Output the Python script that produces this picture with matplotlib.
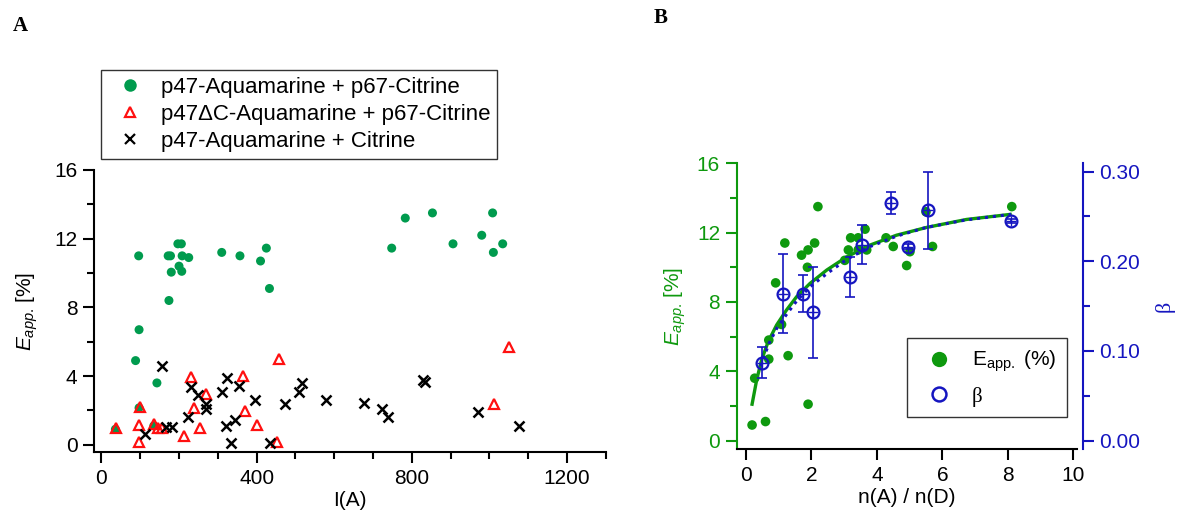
import matplotlib
matplotlib.use('Agg')
from matplotlib import pyplot as plt
from matplotlib.lines import Line2D
from matplotlib.ticker import MultipleLocator, FormatStrFormatter

plt.rcParams['font.family'] = ['Liberation Sans', 'DejaVu Sans']
plt.rcParams['mathtext.fontset'] = 'custom'
plt.rcParams['mathtext.rm'] = 'Liberation Sans'
plt.rcParams['mathtext.it'] = 'Liberation Sans:italic'

# ---- panel A data: E_app [%] vs I(A)
aqCit_x = [36, 88, 97, 97, 96, 135, 143, 174, 172, 178, 197, 206, 208, 225, 200, 180, 207,
           310, 357, 425, 410, 433, 748, 783, 853, 906, 980, 1008, 1010, 1034]
aqCit_y = [0.9, 4.9, 6.7, 2.15, 11.0, 1.1, 3.6, 8.4, 11.0, 11.0, 11.7, 11.7, 11.0, 10.9, 10.4, 10.05, 10.1,
           11.2, 11.0, 11.45, 10.7, 9.1, 11.45, 13.2, 13.5, 11.7, 12.2, 13.5, 11.2, 11.7]

dC_x = [37, 99, 96, 97, 135, 145, 156, 230, 238, 213, 253, 270, 364, 371, 401, 457, 452, 1049, 1012]
dC_y = [0.97, 2.18, 1.17, 0.16, 1.22, 0.97, 0.97, 3.95, 2.14, 0.49, 0.97, 2.97, 3.98, 1.98, 1.17, 5.0, 0.16,
        5.7, 2.39]

cit_x = [112, 155, 166, 182, 223, 230, 249, 270, 270, 311, 324, 320, 334, 345, 354, 396, 434, 474,
         508, 517, 579, 677, 722, 739, 828, 835, 970, 1075]
cit_y = [0.6, 4.6, 1.05, 1.05, 1.6, 3.35, 2.9, 2.4, 2.1, 3.1, 3.9, 1.1, 0.1, 1.45, 3.4, 2.6, 0.1, 2.4,
         3.1, 3.6, 2.6, 2.45, 2.1, 1.6, 3.75, 3.65, 1.9, 1.1]

# ---- panel B data: E_app and beta vs n(A)/n(D)
ratio = [0.19, 0.6, 0.27, 0.7, 0.7, 0.91, 1.09, 1.29, 1.19, 2.2, 1.7, 1.9, 2.1, 1.88, 1.9, 3.02, 3.13, 3.2,
         3.43, 3.64, 3.43, 3.69, 4.28, 4.5, 4.91, 5.01, 5.5, 5.7, 8.12]
eapp = [0.9, 1.1, 3.6, 4.7, 5.8, 9.1, 6.7, 4.9, 11.4, 13.5, 10.7, 11.0, 11.4, 10.0, 2.1, 10.4, 11.0, 11.7,
        11.7, 12.2, 11.0, 11.0, 11.7, 11.2, 10.1, 10.9, 13.2, 11.2, 13.5]

beta_ratio = [0.48, 1.12, 1.73, 2.04, 3.18, 3.56, 4.42, 4.94, 5.55, 8.10]
beta = [0.087, 0.164, 0.164, 0.143, 0.1825, 0.2185, 0.2646, 0.2163, 0.257, 0.245]
beta_err = [0.017, 0.044, 0.021, 0.051, 0.022, 0.022, 0.0122, 0.003, 0.043, 0.002]

fit_ratio = [0.19, 0.33, 0.48, 0.68, 0.94, 1.24, 1.55, 1.96, 2.47, 3.08, 3.79, 4.6, 5.52, 6.74, 8.07]
fit_eapp = [2.1, 3.5, 4.65, 5.7, 6.67, 7.53, 8.3, 9.07, 9.84, 10.6, 11.28, 11.85, 12.3, 12.76, 13.05]

fitb_ratio = [0.45, 0.5, 0.7, 0.95, 1.25, 1.55, 1.95, 2.5, 3.1, 3.8, 4.6, 5.5, 6.7, 8.1]
fitb_beta = [0.083, 0.0877, 0.108, 0.1256, 0.1412, 0.1557, 0.1713, 0.187, 0.2025, 0.2165, 0.228,
             0.2377, 0.246, 0.2524]

greenA = '#009b4e'
greenB = '#0e990e'
blue = '#1515c0'
red = '#ff1010'

fig = plt.figure(figsize=(11.77, 5.24), dpi=100)


def style_ticks(ax, axis, color='black'):
    ax.tick_params(axis=axis, which='major', length=8, width=1.5, direction='out', labelsize=15,
                   pad=4, colors=color)
    ax.tick_params(axis=axis, which='minor', length=5, width=1.5, direction='out', colors=color)


ylab = r'$\mathit{E}_{\mathit{app.}}\,$[%]'

# ================= panel A
axA = fig.add_axes([0.080, 0.1365, 0.4348, 0.5391])
axA.scatter(aqCit_x, aqCit_y, s=42, color=greenA, edgecolors='none', zorder=2)
axA.plot(dC_x, dC_y, ls='none', marker='^', ms=7, mfc='none', mec=red, mew=1.6, zorder=3)
axA.plot(cit_x, cit_y, ls='none', marker='x', ms=7, mec='black', mew=1.8, zorder=4)
axA.set_xlim(-18.7, 1300)
axA.set_ylim(-0.45, 16)
axA.xaxis.set_major_locator(MultipleLocator(400))
axA.xaxis.set_minor_locator(MultipleLocator(100))
axA.yaxis.set_major_locator(MultipleLocator(4))
axA.yaxis.set_minor_locator(MultipleLocator(2))
for s in ['top', 'right']:
    axA.spines[s].set_visible(False)
for s in ['left', 'bottom']:
    axA.spines[s].set_linewidth(1.5)
style_ticks(axA, 'x')
style_ticks(axA, 'y')
axA.set_xlabel('I(A)', fontsize=15, labelpad=2)
axA.set_ylabel(ylab, fontsize=15, labelpad=10)

hA = [Line2D([], [], ls='none', marker='o', ms=9, color=greenA, mec='none'),
      Line2D([], [], ls='none', marker='^', ms=7, mfc='none', mec=red, mew=1.6),
      Line2D([], [], ls='none', marker='x', ms=7.5, mec='black', mew=1.6)]
legA = axA.legend(hA, ['p47-Aquamarine + p67-Citrine', 'p47\u0394C-Aquamarine + p67-Citrine',
                       'p47-Aquamarine + Citrine'],
                  loc='upper left', bbox_to_anchor=(100.8 / 1177, 1 - 70 / 524),
                  bbox_transform=fig.transFigure, fontsize=16, frameon=True, fancybox=False,
                  edgecolor='black', borderpad=0.3, labelspacing=0.28, handlelength=2.0,
                  handletextpad=0.41, borderaxespad=0)
legA.get_frame().set_linewidth(1.0)

# ================= panel B
axB = fig.add_axes([0.6259, 0.1426, 0.2891, 0.5458])
axB.scatter(ratio, eapp, s=48, color=greenB, edgecolors='none', zorder=2)
axB.plot(fit_ratio, fit_eapp, color=greenB, lw=2.4, zorder=3)
axB.set_xlim(-0.28, 10.11)
axB.set_ylim(-0.5, 16)
axB.xaxis.set_major_locator(MultipleLocator(2))
axB.yaxis.set_major_locator(MultipleLocator(4))
axB.yaxis.set_minor_locator(MultipleLocator(2))
axB.spines['top'].set_visible(False)
axB.spines['right'].set_visible(False)
axB.spines['bottom'].set_linewidth(1.5)
axB.spines['left'].set_linewidth(1.5)
axB.spines['left'].set_color(greenB)
style_ticks(axB, 'x')
style_ticks(axB, 'y', greenB)
axB.set_xlabel('n(A) / n(D)', fontsize=15, labelpad=2)
axB.set_ylabel(ylab, fontsize=15, color=greenB, labelpad=6)

ax2 = axB.twinx()
ax2.plot(fitb_ratio, fitb_beta, color=blue, lw=2.2, ls=(0, (1, 1.6)), zorder=3)
ax2.errorbar(beta_ratio, beta, yerr=beta_err, fmt='none', ecolor=blue, elinewidth=1.2,
             capsize=3.5, capthick=1.2, zorder=4)
ax2.plot(beta_ratio, beta, ls='none', marker='o', ms=8.5, mfc='none', mec=blue, mew=1.6, zorder=5)
ax2.plot(beta_ratio, beta, ls='none', marker='+', ms=7, mec=blue, mew=1.0, zorder=5)
ax2.set_ylim(-0.0096, 0.3093)
ax2.yaxis.set_major_locator(MultipleLocator(0.1))
ax2.yaxis.set_minor_locator(MultipleLocator(0.05))
ax2.yaxis.set_major_formatter(FormatStrFormatter('%.2f'))
for s in ['top', 'left', 'bottom']:
    ax2.spines[s].set_visible(False)
ax2.spines['right'].set_position(('outward', 4.3))
ax2.spines['right'].set_linewidth(1.5)
ax2.spines['right'].set_color(blue)
style_ticks(ax2, 'y', blue)
ax2.set_ylabel('\u03b2', fontsize=16, color=blue, family='Liberation Serif', labelpad=10)

hB = [Line2D([], [], ls='none', marker='o', ms=11, color=greenB, mec='none'),
      Line2D([], [], ls='none', marker='o', ms=10, mfc='none', mec=blue, mew=1.8)]
legB = ax2.legend(hB, [r'E$_{\mathregular{app.}}$ (%)', '\u03b2'],
                  loc='upper left', bbox_to_anchor=(906.7 / 1177, 1 - 338.3 / 524),
                  bbox_transform=fig.transFigure, fontsize=15, frameon=True, fancybox=False,
                  edgecolor='black', borderpad=0.5, labelspacing=0.6, handlelength=2.1,
                  handletextpad=0.52, borderaxespad=0)
legB.get_frame().set_linewidth(1.0)
legB.get_texts()[1].set_family('Liberation Serif')

# panel letters
fig.text(13 / 1177, 1 - 26 / 524, 'A', fontsize=15, fontweight='bold', family='Liberation Serif',
         va='center')
fig.text(654 / 1177, 1 - 18 / 524, 'B', fontsize=15, fontweight='bold', family='Liberation Serif',
         va='center')

fig.savefig('out.png', dpi=100)
